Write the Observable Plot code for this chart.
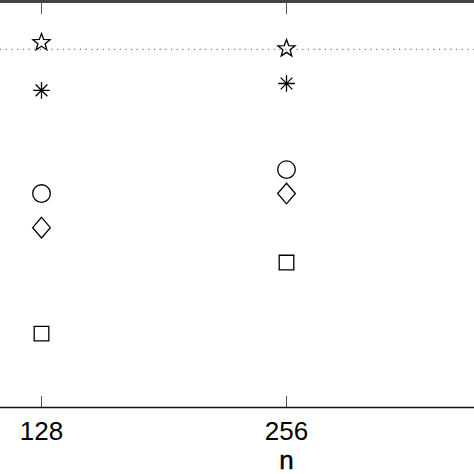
<!DOCTYPE html>
<html><head><meta charset="utf-8">
<script src="https://cdn.jsdelivr.net/npm/d3@7"></script>
<script src="https://cdn.jsdelivr.net/npm/@observablehq/plot@0.6"></script>
<style>body{margin:0;background:#fff;} #chart svg{display:block;}</style>
</head><body><div id="chart"></div>
<script>
const n = [128, 256];
const starVals = [0.899, 0.884];
const asteriskVals = [0.781, 0.798];
const circleVals = [0.527, 0.586];
const diamondVals = [0.443, 0.527];
const squareVals = [0.182, 0.357];
const referenceLevel = [0.882];
const xTicks = [128, 256];
const xLabel = "n";

const rad = (size) => Math.sqrt(size / Math.PI);
const star5 = {draw(ctx, size) {
  const R = rad(size), r = R * 0.42;
  for (let i = 0; i < 10; i++) {
    const a = -Math.PI / 2 + i * Math.PI / 5, rr = i % 2 ? r : R;
    const x = rr * Math.cos(a), y = rr * Math.sin(a);
    i ? ctx.lineTo(x, y) : ctx.moveTo(x, y);
  }
  ctx.closePath();
}};
const asterisk8 = {draw(ctx, size) {
  const r = rad(size);
  for (let i = 0; i < 4; i++) {
    const a = i * Math.PI / 4, x = r * Math.cos(a), y = r * Math.sin(a);
    ctx.moveTo(-x, -y); ctx.lineTo(x, y);
  }
}};
const circleSym = {draw(ctx, size) { const r = rad(size); ctx.moveTo(r, 0); ctx.arc(0, 0, r, 0, 2 * Math.PI); }};
const diamondSym = {draw(ctx, size) {
  const h = rad(size), w = h * 0.86;
  ctx.moveTo(0, -h); ctx.lineTo(w, 0); ctx.lineTo(0, h); ctx.lineTo(-w, 0); ctx.closePath();
}};
const squareSym = {draw(ctx, size) { const s = rad(size); ctx.rect(-s, -s, 2 * s, 2 * s); }};

const series = (vals) => n.map((x, i) => ({x, y: vals[i]}));
const dotOpts = (symbol, r) => ({x: "x", y: "y", symbol, r, fill: "none", stroke: "black", strokeWidth: 1.3});

const chart = Plot.plot({
  width: 474, height: 474,
  marginTop: 1, marginBottom: 67, marginLeft: 0, marginRight: 0,
  style: {background: "#fff", fontFamily: "'Liberation Sans', Arial, Helvetica, sans-serif", overflow: "visible"},
  x: {domain: [106.58, 354.22]},
  y: {domain: [0, 1], axis: null},
  marks: [
    Plot.ruleY(referenceLevel, {stroke: "#777", strokeWidth: 1.1, strokeDasharray: "1.2,4.5"}),
    Plot.ruleX(xTicks, {x: d => d, y1: 0, y2: 0.027, stroke: "#555", strokeWidth: 1}),
    Plot.ruleX(xTicks, {x: d => d, y1: 1, y2: 0.968, stroke: "#555", strokeWidth: 1}),
    Plot.ruleY([0], {stroke: "#111", strokeWidth: 1.6}),
    Plot.ruleY([1], {stroke: "#444", strokeWidth: 3}),
    Plot.axisX({ticks: xTicks, tickSize: 0, tickPadding: 14, fontSize: 26, label: null, tickFormat: d => String(d), fill: "#000", stroke: "#000", strokeWidth: 0.4}),
    Plot.text([xLabel], {x: () => 256, frameAnchor: "bottom", text: d => d, dy: 61, fontSize: 26, lineAnchor: "bottom", fill: "#000", stroke: "#000", strokeWidth: 0.4}),
    Plot.dot(series(starVals), dotOpts(star5, 9)),
    Plot.dot(series(asteriskVals), dotOpts(asterisk8, 8.3)),
    Plot.dot(series(circleVals), dotOpts(circleSym, 8.8)),
    Plot.dot(series(diamondVals), dotOpts(diamondSym, 10.3)),
    Plot.dot(series(squareVals), dotOpts(squareSym, 7.3))
  ]
});
document.getElementById("chart").appendChild(chart);
</script>
</body></html>
